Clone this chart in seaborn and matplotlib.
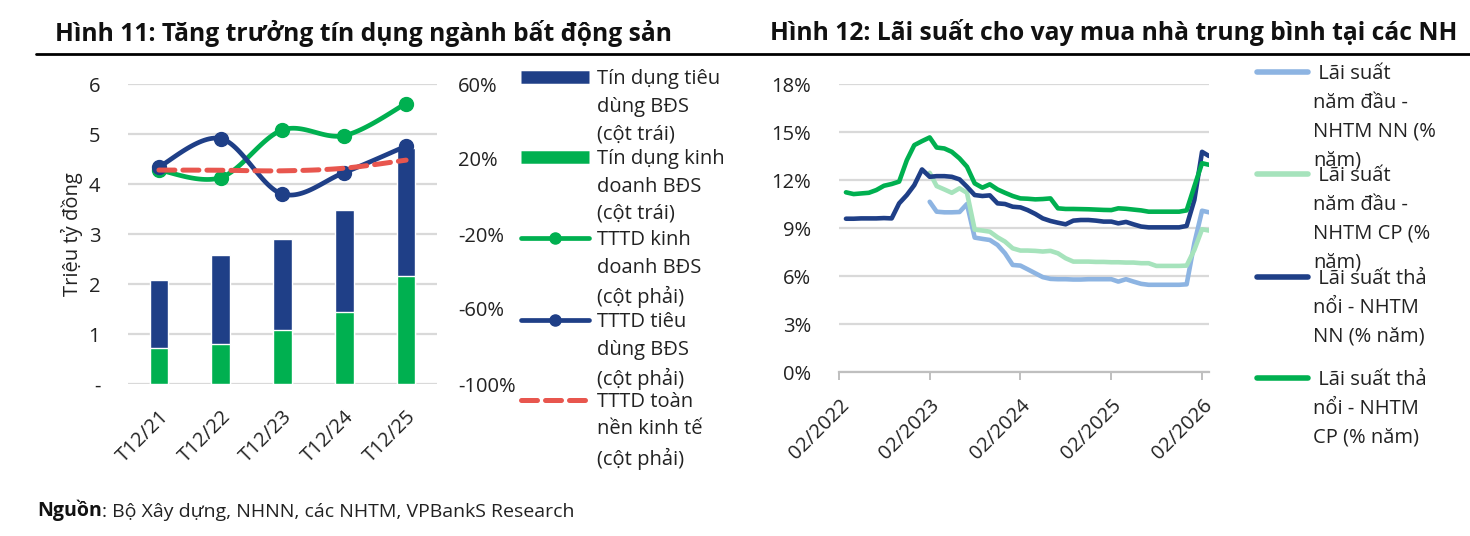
import numpy as np
import pandas as pd
import matplotlib
matplotlib.use("Agg")
import matplotlib.pyplot as plt
from matplotlib.lines import Line2D
import seaborn as sns

# ---- Hình 11: tín dụng BĐS ----
periods = ["T12/21", "T12/22", "T12/23", "T12/24", "T12/25"]
credit_business = [0.73, 0.80, 1.08, 1.45, 2.17]      # Tín dụng kinh doanh BĐS (triệu tỷ đồng)
credit_consumer = [1.35, 1.78, 1.82, 2.03, 2.55]      # Tín dụng tiêu dùng BĐS (triệu tỷ đồng)
growth_business = [14.1, 10.1, 35.5, 32.5, 49.6]      # TTTD kinh doanh BĐS (%)
growth_consumer = [15.8, 30.9, 1.3, 12.8, 26.9]       # TTTD tiêu dùng BĐS (%)
growth_economy = [14.1, 14.0, 13.7, 15.1, 19.4]       # TTTD toàn nền kinh tế (%)

left_ticks = [0, 1, 2, 3, 4, 5, 6]
left_ticklabels = ["-", "1", "2", "3", "4", "5", "6"]
right_ticks = [-100, -60, -20, 20, 60]
right_ticklabels = ["-100%", "-60%", "-20%", "20%", "60%"]

# ---- Hình 12: lãi suất cho vay mua nhà (monthly, 03/2022 - 03/2026) ----
months = pd.date_range("2022-03-01", periods=49, freq="MS")
nan = np.nan
float_cp = [11.23, 11.12, 11.16, 11.2, 11.37, 11.64, 11.75, 11.9, 13.24, 14.18, 14.43, 14.66,
            14.03, 13.97, 13.76, 13.35, 12.83, 11.79, 11.52, 11.73, 11.41, 11.2, 11.0, 10.85,
            10.83, 10.79, 10.81, 10.85, 10.23, 10.19, 10.19, 10.18, 10.17, 10.15, 10.13, 10.12,
            10.23, 10.2, 10.15, 10.1, 10.02, 10.02, 10.02, 10.02, 10.02, 10.1, 11.6, 13.05, 12.95]
float_nn = [9.58, 9.58, 9.6, 9.6, 9.6, 9.62, 9.6, 10.54, 11.06, 11.68, 12.66, 12.2,
            12.24, 12.24, 12.2, 12.04, 11.58, 11.06, 11.0, 11.04, 10.54, 10.5, 10.33, 10.29,
            10.12, 9.88, 9.6, 9.44, 9.33, 9.23, 9.46, 9.5, 9.5, 9.46, 9.4, 9.4,
            9.29, 9.38, 9.23, 9.09, 9.04, 9.04, 9.04, 9.04, 9.04, 9.13, 10.75, 13.76, 13.5]
first_nn = [nan] * 11 + [10.64, 10.02, 9.98, 9.98, 10.0, 10.5, 8.4, 8.32, 8.25, 7.94, 7.42, 6.69,
                         6.65, 6.42, 6.17, 5.93, 5.82, 5.8, 5.8, 5.78, 5.78, 5.8, 5.8, 5.8,
                         5.8, 5.65, 5.8, 5.65, 5.51, 5.45, 5.45, 5.45, 5.45, 5.45, 5.48, 8.05,
                         10.08, 9.98]
first_cp = [nan] * 11 + [12.45, 11.62, 11.41, 11.2, 11.48, 11.2, 8.9, 8.84, 8.77, 8.42, 8.15, 7.73,
                         7.59, 7.59, 7.57, 7.53, 7.57, 7.42, 7.11, 6.9, 6.9, 6.9, 6.88, 6.88,
                         6.86, 6.86, 6.84, 6.84, 6.8, 6.8, 6.63, 6.63, 6.63, 6.63, 6.65, 7.63,
                         8.92, 8.84]
rate_names = ["Lãi suất năm đầu - NHTM NN (% năm)", "Lãi suất năm đầu - NHTM CP (% năm)",
              "Lãi suất thả nổi - NHTM NN (% năm)", "Lãi suất thả nổi - NHTM CP (% năm)"]
year_ticks = pd.to_datetime(["2022-02-01", "2023-02-01", "2024-02-01", "2025-02-01", "2026-02-01"])

NAVY = "#1F3F87"
GREEN = "#00B050"
RED = "#E8564E"
LIGHT_BLUE = "#8DB4E2"
MINT = "#A6E3BC"
GRID = "#D9D9D9"

sns.set_theme(style="white")
plt.rcParams["font.family"] = ["Open Sans", "DejaVu Sans"]
FS = 14.5

W, H = 1470, 536
fig = plt.figure(figsize=(W / 100, H / 100), dpi=100)


def box(x0, y0, x1, y1):
    # pixel box (top-left origin) -> figure fraction rect
    return [x0 / W, 1 - y1 / H, (x1 - x0) / W, (y1 - y0) / H]


def fx(px):
    return px / W


def fy(py):
    return 1 - py / H


def smooth(x, y, n=30):
    # Catmull-Rom curve through the points (Excel-like smoothed line)
    x = np.asarray(x, float)
    y = np.asarray(y, float)
    px = np.concatenate([[x[0]], x, [x[-1]]])
    py = np.concatenate([[y[0]], y, [y[-1]]])
    t = np.linspace(0, 1, n)
    xs, ys = [], []
    for i in range(len(x) - 1):
        for p, out in ((px, xs), (py, ys)):
            p0, p1, p2, p3 = p[i], p[i + 1], p[i + 2], p[i + 3]
            out.append(0.5 * (2 * p1 + (-p0 + p2) * t + (2 * p0 - 5 * p1 + 4 * p2 - p3) * t ** 2
                              + (-p0 + 3 * p1 - 3 * p2 + p3) * t ** 3))
    return np.concatenate(xs), np.concatenate(ys)


# ================= Hình 11 =================
ax = fig.add_axes(box(128, 84, 437, 384))
total = np.array(credit_business) + np.array(credit_consumer)
sns.barplot(x=periods, y=total, color=NAVY, saturation=1, width=0.3, ax=ax, zorder=2)
sns.barplot(x=periods, y=credit_business, color=GREEN, saturation=1, width=0.3, ax=ax, zorder=3)
ax.set_xlim(-0.5, 4.5)
ax.set_ylim(0, 6)
ax.set_yticks(left_ticks)
ax.set_yticklabels(left_ticklabels)
ax.yaxis.grid(True, color=GRID, lw=1.6)
ax.set_axisbelow(True)
for s in ax.spines.values():
    s.set_visible(False)
ax.tick_params(axis="both", length=0, labelsize=FS, colors="#222222")
ax.tick_params(axis="y", pad=20)
ax.tick_params(axis="x", pad=16)
plt.setp(ax.get_xticklabels(), rotation=45, ha="right", rotation_mode="anchor")
ax.set_ylabel("Triệu tỷ đồng", fontsize=FS, color="#222222")
ax.yaxis.set_label_coords(-0.145, 0.5)
ax.set_xlabel("")

ax2 = ax.twinx()
ax2.set_ylim(-100, 60)
ax2.set_yticks(right_ticks)
ax2.set_yticklabels(right_ticklabels)
ax2.tick_params(axis="y", length=0, labelsize=FS, colors="#222222", pad=15)
for s in ax2.spines.values():
    s.set_visible(False)
xpos = np.arange(len(periods))
for vals, col in ((growth_business, GREEN), (growth_consumer, NAVY)):
    sx, sy = smooth(xpos, vals)
    ax2.plot(sx, sy, color=col, lw=3.4, solid_capstyle="round", zorder=4)
    ax2.plot(xpos, vals, "o", color=col, ms=10, zorder=5)
sx, sy = smooth(xpos, growth_economy)
ax2.plot(sx, sy, color=RED, lw=3.6, dashes=(3.2, 1.6), dash_capstyle="round", zorder=6)

# ================= Hình 12 =================
bx = fig.add_axes(box(839, 84, 1209, 372))
rates = pd.DataFrame({"date": np.tile(months, 4),
                      "series": np.repeat(rate_names, len(months)),
                      "value": np.concatenate([first_nn, first_cp, float_nn, float_cp])})
sns.lineplot(data=rates, x="date", y="value", hue="series", hue_order=rate_names,
             palette=[LIGHT_BLUE, MINT, NAVY, GREEN], linewidth=3.3, legend=False,
             solid_capstyle="round", ax=bx)
bx.set_xlim(pd.Timestamp("2022-02-01"), pd.Timestamp("2026-03-01"))
bx.set_ylim(0, 18)
bx.set_yticks([0, 3, 6, 9, 12, 15, 18])
bx.set_yticklabels(["0%", "3%", "6%", "9%", "12%", "15%", "18%"])
bx.set_xticks(year_ticks)
bx.set_xticklabels([d.strftime("%m/%Y") for d in year_ticks])
bx.yaxis.grid(True, color=GRID, lw=1.6)
bx.set_axisbelow(True)
for k in ("top", "right", "left"):
    bx.spines[k].set_visible(False)
bx.spines["bottom"].set_color("#BFBFBF")
bx.spines["bottom"].set_linewidth(1.6)
bx.tick_params(axis="y", length=0, labelsize=FS, colors="#222222", pad=20)
bx.tick_params(axis="x", length=6, width=1.4, color="#BFBFBF", direction="out",
               labelsize=FS, labelcolor="#222222", pad=11, bottom=True)
plt.setp(bx.get_xticklabels(), rotation=45, ha="right", rotation_mode="anchor")
bx.set_xlabel("")
bx.set_ylabel("")

# ================= titles, rule, source =================
fig.text(fx(55), fy(33), "Hình 11: Tăng trưởng tín dụng ngành bất động sản",
         fontsize=17.7, fontweight="bold", va="center", ha="left", color="#111111")
fig.text(fx(770), fy(33), "Hình 12: Lãi suất cho vay mua nhà trung bình tại các NH",
         fontsize=17.7, fontweight="bold", va="center", ha="left", color="#111111")
fig.add_artist(Line2D([fx(36), fx(1470)], [fy(54), fy(54)], color="black", lw=2,
                      transform=fig.transFigure))
src = fig.text(fx(37), fy(521), "Nguồn", fontsize=14, fontweight="bold", va="bottom", color="#111111")
plt.annotate(": Bộ Xây dựng, NHNN, các NHTM, VPBankS Research", xy=(1, 0), xycoords=src,
             va="bottom", ha="left", fontsize=14, color="#222222", annotation_clip=False)

# ================= legends (handle aligned with first text line) =================
left_items = [
    ("bar", NAVY, "Tín dụng tiêu\ndùng BĐS\n(cột trái)", 77),
    ("bar", GREEN, "Tín dụng kinh\ndoanh BĐS\n(cột trái)", 157),
    ("mk", GREEN, "TTTD kinh\ndoanh BĐS\n(cột phải)", 238),
    ("mk", NAVY, "TTTD tiêu\ndùng BĐS\n(cột phải)", 320),
    ("dash", RED, "TTTD toàn\nnền kinh tế\n(cột phải)", 400),
]
for kind, col, label, yc in left_items:
    if kind == "bar":
        h = Line2D([fx(521), fx(589)], [fy(yc), fy(yc)], color=col, lw=9, solid_capstyle="butt")
    elif kind == "mk":
        h = Line2D([fx(521), fx(589)], [fy(yc), fy(yc)], color=col, lw=3.4, solid_capstyle="round")
        fig.add_artist(Line2D([fx(555)], [fy(yc)], color=col, marker="o", ms=8, lw=0,
                              transform=fig.transFigure))
    else:
        h = Line2D([fx(521), fx(589)], [fy(yc), fy(yc)], color=col, lw=3.6, dashes=(3.2, 1.6),
                   dash_capstyle="round")
    h.set_transform(fig.transFigure)
    fig.add_artist(h)
    fig.text(fx(597), fy(yc - 8), label, fontsize=FS, va="top", ha="left",
             linespacing=1.5, color="#222222")

right_items = [
    (LIGHT_BLUE, " Lãi suất\nnăm đầu -\nNHTM NN (%\nnăm)", 72),
    (MINT, " Lãi suất\nnăm đầu -\nNHTM CP (%\nnăm)", 174),
    (NAVY, " Lãi suất thả\nnổi - NHTM\nNN (% năm)", 277),
    (GREEN, " Lãi suất thả\nnổi - NHTM\nCP (% năm)", 378),
]
for col, label, yc in right_items:
    fig.add_artist(Line2D([fx(1257), fx(1308)], [fy(yc), fy(yc)], color=col, lw=4,
                          solid_capstyle="round", transform=fig.transFigure))
    fig.text(fx(1313), fy(yc - 8), label, fontsize=FS, va="top", ha="left",
             linespacing=1.58, color="#222222")

fig.savefig("out.png", dpi=100)
